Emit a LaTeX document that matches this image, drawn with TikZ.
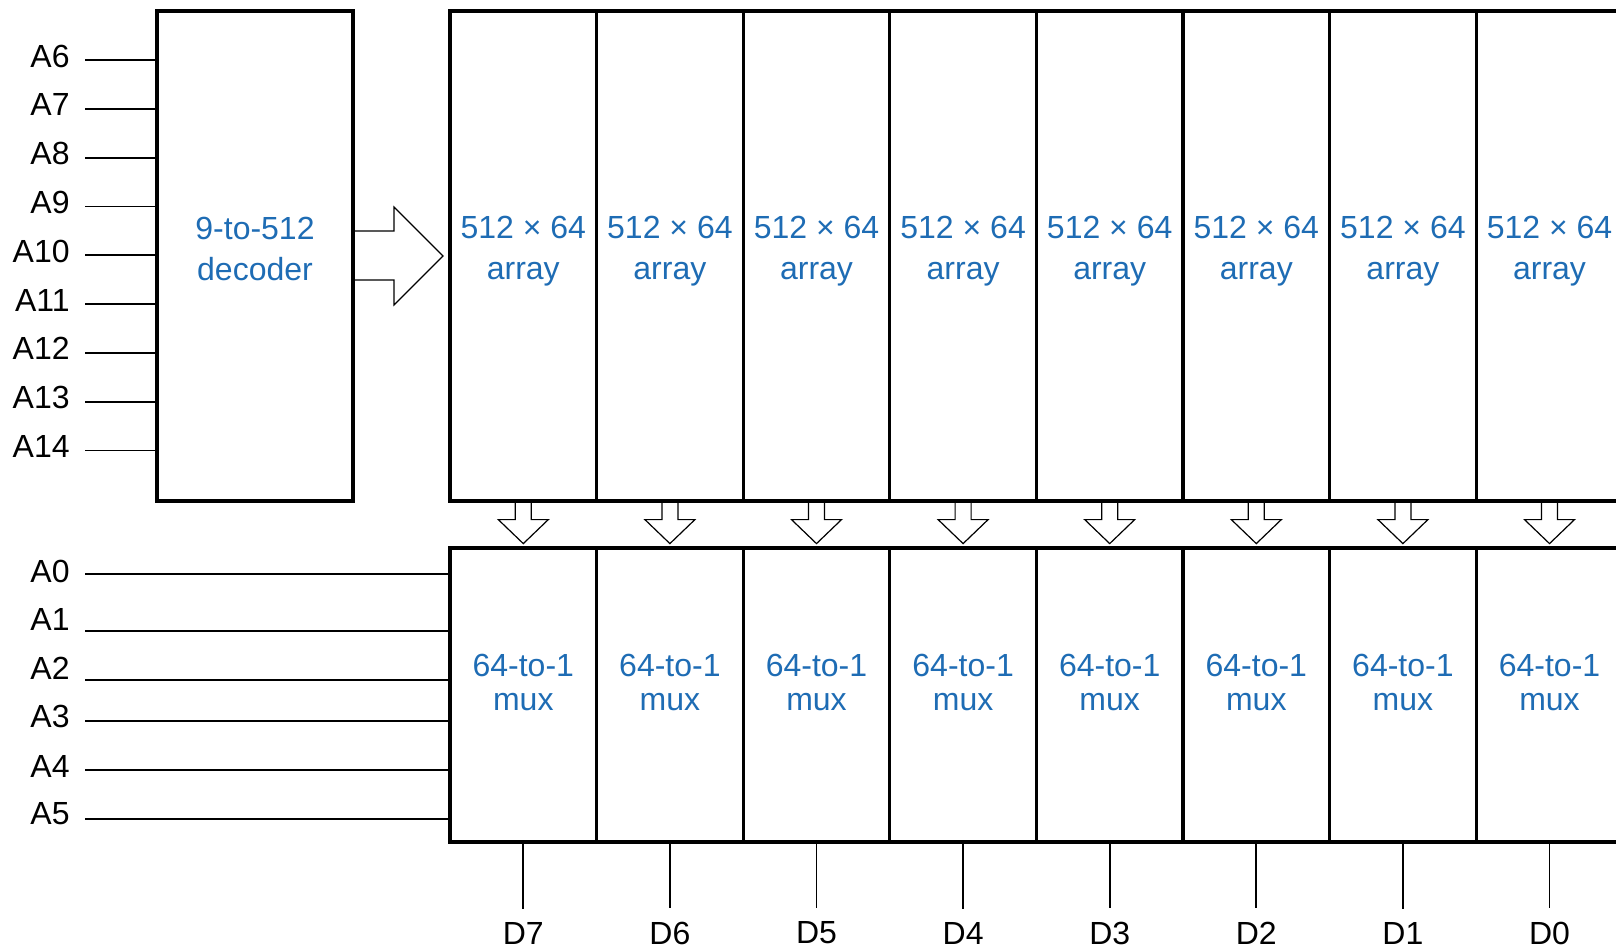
\documentclass[tikz,border=0pt]{standalone}
\usepackage{fontspec}
\setmainfont{Liberation Sans}
\definecolor{lblue}{RGB}{30,108,180}

\begin{document}
\begin{tikzpicture}[x=0.5pt,y=-0.5pt,
  font=\fontsize{16}{20.5}\selectfont,
  blk/.style={draw,line width=1.6pt,minimum width=73.3pt,inner sep=0pt},
  wire/.style={line width=0.9pt},
  fat/.style={line width=0.6pt,line join=miter},
  lbl/.style={anchor=east,inner sep=0pt},
  txt/.style={text=lblue,align=center,inner sep=0pt}]

% Gemeinsame Masse
\def\xarr{450}
\def\colw{146.6}

\useasboundingbox (0,0) rectangle (1616,948);
\clip (0,0) rectangle (1616,948);

% ------------------- Decoder -------------------
\node[blk,minimum width=98pt,minimum height=245pt] (dec) at (255,256) {};
\node[txt] (dectxt) at (255,249) {9-to-512\\decoder};

% Adressen A6..A14
\foreach \n [count=\i from 0] in {6,...,14} {
  \node[lbl] (a\n) at (70,{56+48.8*\i}) {A\n};
  \coordinate (in\n) at (85,{60+48.8*\i});
  \draw[wire] (in\n) -- (in\n -| dec.west);
}

% breiter Pfeil
\draw[fat] (dec.east |- 0,231) -- (394,231) -- (394,207) -- (443,256)
  -- (394,305) -- (394,280) -- (dec.east |- 0,280);

% ------------------- Arrays und Mux -------------------
\foreach \d [count=\k from 0] in {7,6,...,0} {
  \pgfmathsetmacro\cx{\xarr+\colw*(\k+0.5)}
  \node[blk,minimum height=245pt] (arr\d) at (\cx,256) {};
  \node[txt] (arrtxt\d) at (\cx,251) {512 × 64\\array};
  \node[blk,minimum height=147pt] (mux\d) at (\cx,695) {};
  \node[txt,font=\fontsize{16}{17}\selectfont] (muxtxt\d) at (\cx,682) {64-to-1\\mux};

  % Pfeil
  \draw[fat] (arr\d.south) ++(-8,0) -- ++(0,17) -- ++(-17,0) -- ++(25,24)
    -- ++(25,-24) -- ++(-17,0) -- ++(0,-17);

  % Ausgang
  \node[inner ysep=6.5pt,inner xsep=0pt] (d\d) at (\cx,933) {D\d};
  \draw[wire] (mux\d.south) -- (d\d.north);
}

% Adressen A0..A5
\foreach \n/\ly/\ty in {0/574/571,1/631/619,2/680/668,3/721/716,4/770/766,5/819/814} {
  \node[lbl] (a\n) at (70,\ty) {A\n};
  \coordinate (in\n) at (85,\ly);
  \draw[wire] (in\n) -- (in\n -| mux7.west);
}

\end{tikzpicture}
\end{document}
